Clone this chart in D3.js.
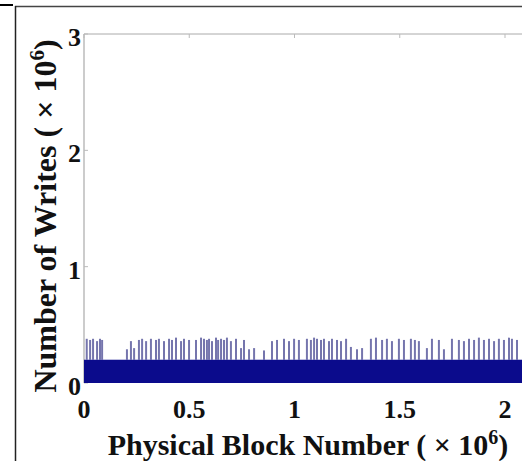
<!DOCTYPE html>
<html>
<head>
<meta charset="utf-8">
<script src="https://cdn.jsdelivr.net/npm/d3@7"></script>
<style>
  body { margin: 0; background: #fff; }
  svg { display: block; }
  text { font-family: "Liberation Serif", "Times New Roman", serif; font-weight: bold; fill: #111; }
</style>
</head>
<body>
<svg id="chart" width="522" height="461"></svg>
<script>
// tick labels
const xTicks = [0, 0.5, 1, 1.5, 2];
const yTicks = [0, 1, 2, 3];

// writes level shared by all blocks (x 10^6)
const bandLevel = 0.2;

// blocks that stick out above the band: [block (x 10^6), writes (x 10^6)]
const spikeBlocks = [
  0.013, 0.029, 0.043, 0.062, 0.076, 0.086, 0.204, 0.223, 0.238, 0.261, 0.276,
  0.295, 0.318, 0.342, 0.356, 0.380, 0.404, 0.418, 0.437, 0.461, 0.475, 0.499,
  0.532, 0.556, 0.570, 0.584, 0.594, 0.608, 0.627, 0.637, 0.651, 0.665, 0.679,
  0.698, 0.722, 0.746, 0.760, 0.784, 0.808, 0.855, 0.893, 0.917, 0.950, 0.974,
  0.998, 1.021, 1.059, 1.078, 1.093, 1.107, 1.126, 1.140, 1.164, 1.178, 1.202,
  1.221, 1.245, 1.268, 1.297, 1.321, 1.363, 1.387, 1.416, 1.439, 1.463, 1.496,
  1.520, 1.553, 1.572, 1.591, 1.629, 1.653, 1.686, 1.710, 1.748, 1.781, 1.805,
  1.829, 1.853, 1.876, 1.900, 1.924, 1.948, 1.971, 1.995, 2.019, 2.033, 2.057
];
const spikeWrites = [
  0.38, 0.37, 0.38, 0.36, 0.38, 0.37, 0.29, 0.36, 0.30, 0.37, 0.38,
  0.36, 0.38, 0.37, 0.38, 0.36, 0.38, 0.37, 0.39, 0.36, 0.38, 0.37,
  0.37, 0.39, 0.38, 0.37, 0.38, 0.36, 0.39, 0.37, 0.38, 0.37, 0.39,
  0.36, 0.38, 0.30, 0.37, 0.29, 0.30, 0.28, 0.36, 0.37, 0.38, 0.36,
  0.38, 0.37, 0.38, 0.37, 0.39, 0.38, 0.37, 0.38, 0.36, 0.38, 0.37,
  0.36, 0.38, 0.31, 0.29, 0.30, 0.38, 0.39, 0.37, 0.38, 0.36, 0.38,
  0.37, 0.38, 0.37, 0.36, 0.30, 0.38, 0.37, 0.29, 0.38, 0.37, 0.36,
  0.38, 0.37, 0.39, 0.37, 0.38, 0.36, 0.38, 0.37, 0.39, 0.38, 0.37
];

const xLabel = 'Physical Block Number ( × 10';
const yLabel = 'Number of Writes ( × 10';

const svg = d3.select('#chart');
const plot = { left: 84, top: 34, bottom: 383 };

const x = d3.scaleLinear().domain([0, 2.1]).range([plot.left, plot.left + 2.1 * 210.5]);
const y = d3.scaleLinear().domain([0, 3]).range([plot.bottom, plot.top]);

// figure frame
svg.append('line').attr('x1', 0).attr('x2', 13).attr('y1', 5).attr('y2', 5)
  .attr('stroke', '#000').attr('stroke-width', 2);
svg.append('line').attr('x1', 15).attr('x2', 522).attr('y1', 6.5).attr('y2', 6.5)
  .attr('stroke', '#444').attr('stroke-width', 1.5);
svg.append('line').attr('x1', 15.5).attr('x2', 15.5).attr('y1', 6).attr('y2', 461)
  .attr('stroke', '#222').attr('stroke-width', 1.5);

// plot box (top + left)
svg.append('line').attr('x1', plot.left).attr('x2', 522).attr('y1', plot.top).attr('y2', plot.top)
  .attr('stroke', '#aaa');
svg.append('line').attr('x1', plot.left).attr('x2', plot.left).attr('y1', plot.top).attr('y2', plot.bottom)
  .attr('stroke', '#999');

// tick marks, inward
svg.selectAll('.ytick').data(yTicks).join('line')
  .attr('x1', plot.left).attr('x2', plot.left + 4)
  .attr('y1', d => y(d)).attr('y2', d => y(d))
  .attr('stroke', '#bbb');
svg.selectAll('.xtick').data(xTicks).join('line')
  .attr('x1', d => x(d)).attr('x2', d => x(d))
  .attr('y1', plot.top).attr('y2', plot.top + 4)
  .attr('stroke', '#bbb');

// spikes
const spikes = spikeBlocks.map((b, i) => ({ b, w: spikeWrites[i] }));
svg.append('g').selectAll('line').data(spikes).join('line')
  .attr('x1', d => x(d.b)).attr('x2', d => x(d.b))
  .attr('y1', y(bandLevel)).attr('y2', d => y(d.w))
  .attr('stroke', '#3a3a8a').attr('stroke-opacity', 0.7).attr('stroke-width', 2);

// solid band of writes
svg.append('rect')
  .attr('x', x(0)).attr('y', y(bandLevel))
  .attr('width', x(2.1) - x(0)).attr('height', y(0) - y(bandLevel))
  .attr('fill', '#0b0b8c');

// tick labels
svg.selectAll('.xlab').data(xTicks).join('text')
  .attr('x', d => x(d)).attr('y', 418)
  .attr('text-anchor', 'middle').attr('font-size', 26)
  .text(d => d);
svg.selectAll('.ylab').data(yTicks).join('text')
  .attr('x', 81).attr('y', d => y(d) + 12)
  .attr('text-anchor', 'end').attr('font-size', 26)
  .text(d => d);

// axis titles
const xt = svg.append('text')
  .attr('x', 308).attr('y', 455)
  .attr('text-anchor', 'middle').attr('font-size', 30);
xt.append('tspan').text(xLabel);
xt.append('tspan').attr('dy', -11).attr('font-size', 20).text('6');
xt.append('tspan').attr('dy', 11).text(')');

const yt = svg.append('text')
  .attr('transform', 'translate(56,216) rotate(-90)')
  .attr('text-anchor', 'middle').attr('font-size', 32);
yt.append('tspan').text(yLabel);
yt.append('tspan').attr('dy', -12).attr('font-size', 21).text('6');
yt.append('tspan').attr('dy', 12).text(')');
</script>
</body>
</html>
